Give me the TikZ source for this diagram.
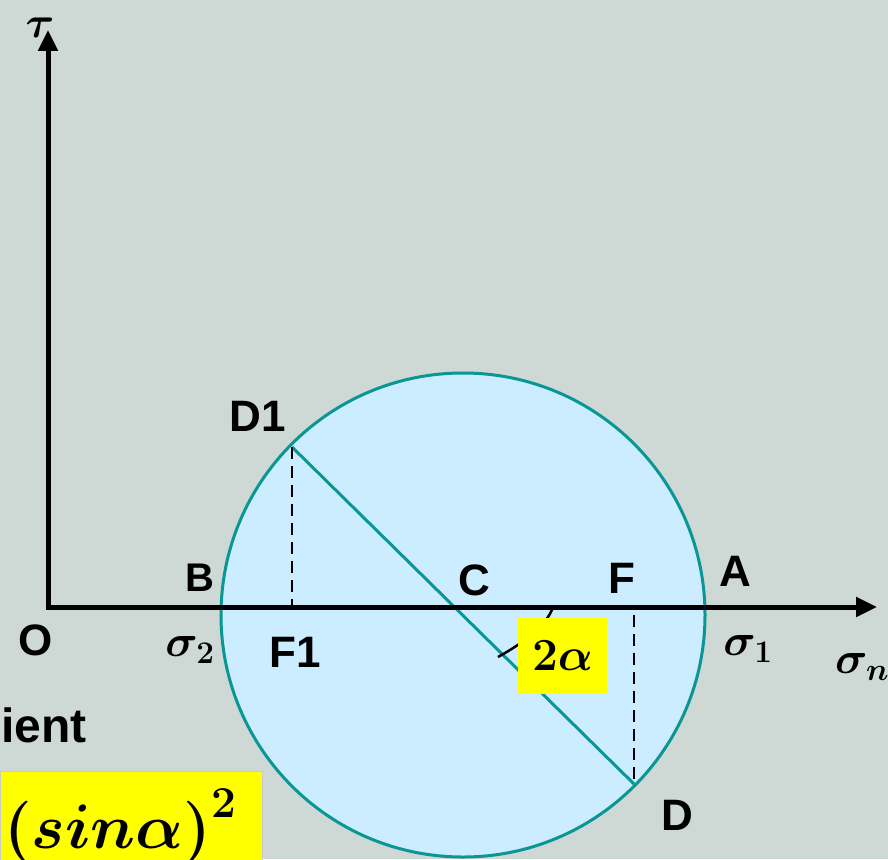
\RequirePackage{fix-cm}
\documentclass[tikz,border=0pt]{standalone}
\usepackage{amsmath,bm}
\usepackage{fontspec}
\setmainfont{Liberation Sans}
\usetikzlibrary{arrows.meta,calc}
\definecolor{mohrBack}{RGB}{206,216,213}
\definecolor{mohrFill}{RGB}{204,236,255}
\definecolor{mohrTeal}{RGB}{10,150,148}
\definecolor{mohrYellow}{RGB}{255,255,0}

\begin{document}
\begin{tikzpicture}[x=1pt,y=-1pt,>={Triangle[length=21pt,width=19pt]}]
\tikzset{
axis/.style={<->,line width=5pt},
lab/.style={font=\bfseries\fontsize{44}{48}\selectfont,inner sep=0pt},
mlab/.style={font=\fontsize{45}{48}\selectfont,inner sep=0pt},
guide/.style={line width=2.4pt,dash pattern=on 12pt off 7pt},
rim/.style={draw=mohrTeal,line width=3pt},
hilite/.style={fill=mohrYellow,inner sep=0pt}
}
\useasboundingbox (0,0) rectangle (888,859);
\clip (0,0) rectangle (888,859);
\fill[mohrBack] (0,0) rectangle (888,859);

\coordinate (O) at (48,607);
\coordinate (tauEnd) at (48,30);
\coordinate (sigEnd) at (877,607);
\coordinate (C) at (463,615);
\coordinate (D1) at (292,447);
\coordinate (D) at (634,784);
\coordinate (F1) at (292,607);
\coordinate (F) at (634,615);
\coordinate (angA) at (498,657);
\coordinate (angB) at (553,607);

% Mohr circle
\filldraw[fill=mohrFill,rim] (C) circle[radius=242];
\draw[rim] (D1) -- (D);
\draw[guide] (D1) -- (F1);
\draw[guide] (F) -- (D);

\draw[axis] (tauEnd) -- (O) -- (sigEnd);
\draw[line width=2.5pt] (angA) .. controls (525,642) and (547,625) .. (angB);

\node[hilite,minimum width=89pt,minimum height=76pt,font=\fontsize{46}{50}\selectfont] (angBox) at (562.5,656) {$\boldsymbol{2\alpha}$};
\node[hilite,draw=black!20,line width=.8pt,minimum width=262pt,minimum height=100pt,anchor=north west] (sinBox) at (0,771) {};
\node[anchor=base west,inner sep=0pt,font=\fontsize{63}{70}\selectfont] (sinText) at (4,848) {$\boldsymbol{(sin\alpha)^2}$};
\node[lab,font=\bfseries\fontsize{48}{52}\selectfont,anchor=base east] (ient) at (87,742) {ient};

% labels
\node[mlab,font=\fontsize{44}{48}\selectfont] (tau) at (40,28) {$\boldsymbol{\tau}$};
\node[lab] (Olab) at (36,640) {O};
\node[lab,font=\bfseries\fontsize{40}{44}\selectfont] (Blab) at (200,578) {B};
\node[mlab] (sig2) at (190,650) {$\boldsymbol{\sigma_2}$};
\node[lab] (F1lab) at (295,652) {F1};
\node[lab] (Clab) at (474,580) {C};
\node[lab] (Flab) at (622,578) {F};
\node[lab] (Alab) at (735,571) {A};
\node[mlab] (sig1) at (748,649) {$\boldsymbol{\sigma_1}$};
\node[mlab,anchor=west] (sign) at (835,667) {$\boldsymbol{\sigma_n}$};
\node[lab] (D1lab) at (258,416) {D1};
\node[lab] (Dlab) at (677,815) {D};
\end{tikzpicture}
\end{document}
